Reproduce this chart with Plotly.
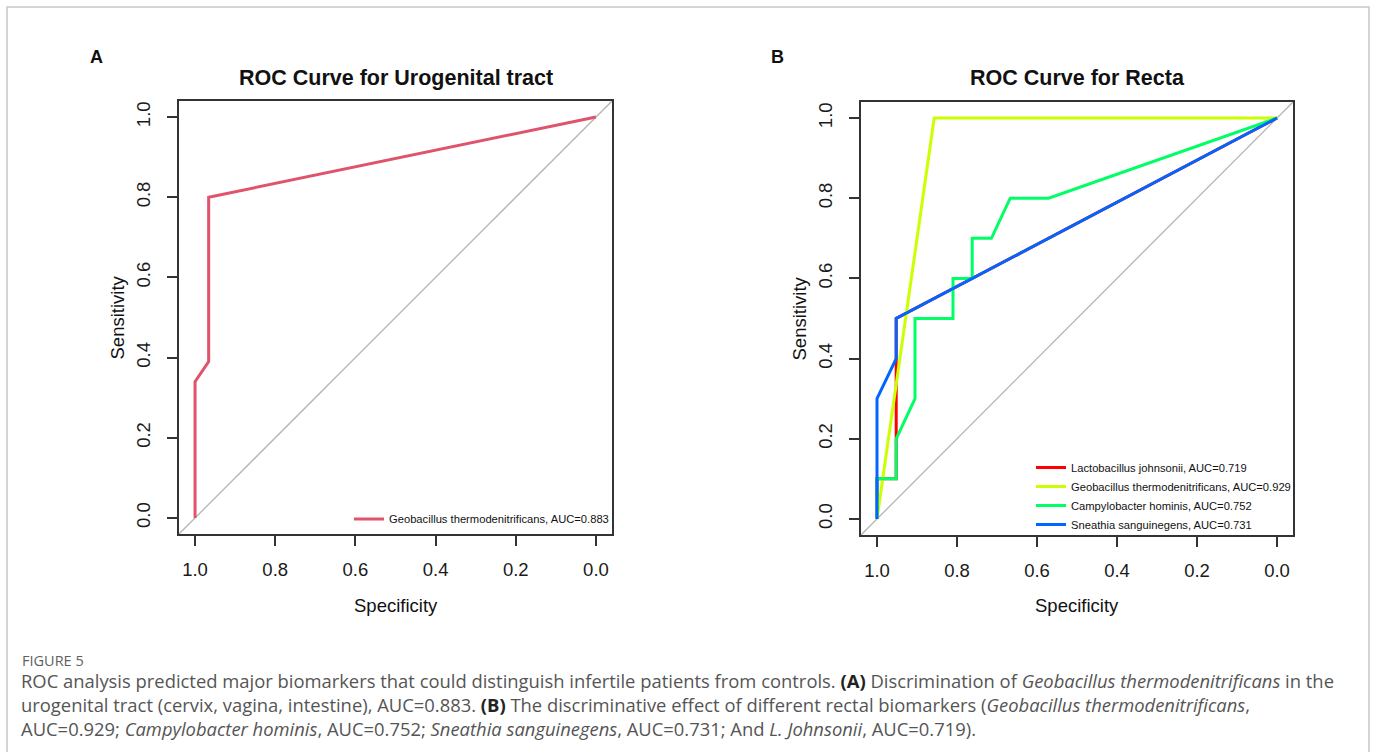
import plotly.graph_objects as go

W, H = 1375, 752

# ---------------- data ----------------
# Panel A: urogenital tract
uro_spec = [1.0, 1.0, 0.966, 0.966, 0.0]
uro_sens = [0.0, 0.34, 0.39, 0.80, 1.0]
uro_name = "Geobacillus thermodenitrificans, AUC=0.883"

# Panel B: recta
lacto_spec = [1.0, 1.0, 0.952, 0.952, 0.0]
lacto_sens = [0.0, 0.1, 0.1, 0.5, 1.0]
geo_spec = [1.0, 0.857, 0.0]
geo_sens = [0.0, 1.0, 1.0]
campy_spec = [1.0, 1.0, 0.952, 0.952, 0.905, 0.905, 0.810, 0.810, 0.762, 0.762, 0.714, 0.667, 0.571, 0.0]
campy_sens = [0.0, 0.1, 0.1, 0.2, 0.3, 0.5, 0.5, 0.6, 0.6, 0.7, 0.7, 0.8, 0.8, 1.0]
sneat_spec = [1.0, 1.0, 0.952, 0.952, 0.0]
sneat_sens = [0.0, 0.3, 0.4, 0.5, 1.0]

rect_names = [
    "Lactobacillus johnsonii, AUC=0.719",
    "Geobacillus thermodenitrificans, AUC=0.929",
    "Campylobacter hominis, AUC=0.752",
    "Sneathia sanguinegens, AUC=0.731",
]
rect_colors = ["#FF0000", "#CCFF00", "#00FF66", "#0066FF"]

x_tickvals = [1.0, 0.8, 0.6, 0.4, 0.2, 0.0]
x_ticktext = ["1.0", "0.8", "0.6", "0.4", "0.2", "0.0"]
y_tickvals = [0.0, 0.2, 0.4, 0.6, 0.8, 1.0]
y_ticktext = ["0.0", "0.2", "0.4", "0.6", "0.8", "1.0"]

titles = ["ROC Curve for Urogenital tract", "ROC Curve for Recta"]
panel_labels = ["A", "B"]

# ---------------- layout helpers ----------------
def px_x(p):
    return p / W

def px_y(p):
    return 1 - p / H

boxA = (179, 612, 101, 534)   # left, right, top, bottom (px)
boxB = (861, 1293, 102, 535)

FONT = "Liberation Sans, Arial, sans-serif"
AXC = "#333333"

fig = go.Figure()

# Panel A trace
fig.add_trace(go.Scatter(x=uro_spec, y=uro_sens, mode="lines", name=uro_name,
                         line=dict(color="#DF536B", width=3), xaxis="x", yaxis="y",
                         legend="legend"))

# Panel B traces
for sx, sy, nm, col in zip([lacto_spec, geo_spec, campy_spec, sneat_spec],
                           [lacto_sens, geo_sens, campy_sens, sneat_sens],
                           rect_names, rect_colors):
    fig.add_trace(go.Scatter(x=sx, y=sy, mode="lines", name=nm,
                             line=dict(color=col, width=3), xaxis="x2", yaxis="y2",
                             legend="legend2"))

def xaxis_cfg(box):
    return dict(domain=[px_x(box[0]), px_x(box[1])], range=[1.04, -0.04],
                tickmode="array", tickvals=x_tickvals, ticktext=x_ticktext,
                ticks="outside", ticklen=10, tickwidth=1.5, tickcolor=AXC,
                showline=True, mirror=True, linecolor=AXC, linewidth=1.5,
                showgrid=False, zeroline=False, ticklabelstandoff=8,
                tickfont=dict(family=FONT, size=18.5, color="#1a1a1a"))

def yaxis_cfg(box):
    return dict(domain=[px_y(box[3]), px_y(box[2])], range=[-0.04, 1.04],
                tickmode="array", tickvals=y_tickvals, ticktext=y_ticktext,
                ticks="outside", ticklen=10, tickwidth=1.5, tickcolor=AXC,
                showline=True, mirror=True, linecolor=AXC, linewidth=1.5,
                showgrid=False, zeroline=False, tickangle=-90, ticklabelstandoff=10,
                tickfont=dict(family=FONT, size=18.5, color="#1a1a1a"))

shapes = []
# diagonal reference lines
for xr, yr in (("x", "y"), ("x2", "y2")):
    shapes.append(dict(type="line", xref=xr, yref=yr, x0=1.04, y0=-0.04, x1=-0.04, y1=1.04,
                       line=dict(color="#B4B4B4", width=1.3), layer="below"))
# outer frame
shapes.append(dict(type="rect", xref="paper", yref="paper",
                   x0=px_x(7), x1=px_x(1369), y0=-0.05, y1=px_y(7),
                   line=dict(color="#C8C8C8", width=1.5), fillcolor="rgba(0,0,0,0)"))

annotations = []
for box, t, pl in zip([boxA, boxB], titles, panel_labels):
    cx = (box[0] + box[1]) / 2
    annotations.append(dict(text="<b>%s</b>" % t, x=px_x(cx), y=px_y(78), xref="paper", yref="paper",
                            showarrow=False, xanchor="center", yanchor="middle",
                            font=dict(family=FONT, size=21.5, color="#111")))
    annotations.append(dict(text="Specificity", x=px_x(cx), y=px_y(605), xref="paper", yref="paper",
                            showarrow=False, xanchor="center", yanchor="middle",
                            font=dict(family=FONT, size=18.5, color="#111")))
    annotations.append(dict(text="Sensitivity", x=px_x(box[0] - 62), y=px_y((box[2] + box[3]) / 2),
                            xref="paper", yref="paper", textangle=-90,
                            showarrow=False, xanchor="center", yanchor="middle",
                            font=dict(family=FONT, size=18.5, color="#111")))
    annotations.append(dict(text="<b>%s</b>" % pl, x=px_x(box[0] - 83), y=px_y(57), xref="paper", yref="paper",
                            showarrow=False, xanchor="center", yanchor="middle",
                            font=dict(family=FONT, size=18, color="#111")))

CAP_FONT = "Open Sans, sans-serif"
CAPC = "#555555"
caption_head = "FIGURE 5"
caption_lines = [
    "ROC analysis predicted major biomarkers that could distinguish infertile patients from controls. "
    "<b style='color:#222'>(A)</b> Discrimination of <i>Geobacillus thermodenitrificans</i> in the",
    "urogenital tract (cervix, vagina, intestine), AUC=0.883. <b style='color:#222'>(B)</b> The discriminative "
    "effect of different rectal biomarkers (<i>Geobacillus thermodenitrificans</i>,",
    "AUC=0.929; <i>Campylobacter hominis</i>, AUC=0.752; <i>Sneathia sanguinegens</i>, AUC=0.731; "
    "And <i>L. Johnsonii</i>, AUC=0.719).",
]
annotations.append(dict(text=caption_head, x=px_x(20), y=px_y(660), xref="paper", yref="paper",
                        showarrow=False, xanchor="left", yanchor="middle",
                        font=dict(family=CAP_FONT, size=14.5, color="#5f5f5f")))
annotations.append(dict(text="<br>".join(caption_lines), x=px_x(19), y=px_y(666), xref="paper", yref="paper",
                        showarrow=False, xanchor="left", yanchor="top", align="left",
                        font=dict(family=CAP_FONT, size=18.4, color=CAPC)))

fig.update_layout(
    width=W, height=H, autosize=False,
    margin=dict(l=0, r=0, t=0, b=0),
    paper_bgcolor="white", plot_bgcolor="white",
    xaxis=dict(xaxis_cfg(boxA), anchor="y"),
    yaxis=dict(yaxis_cfg(boxA), anchor="x"),
    xaxis2=dict(xaxis_cfg(boxB), anchor="y2"),
    yaxis2=dict(yaxis_cfg(boxB), anchor="x2"),
    shapes=shapes,
    annotations=annotations,
    legend=dict(x=px_x(349), y=px_y(519), xanchor="left", yanchor="middle",
                bgcolor="rgba(0,0,0,0)", font=dict(family=FONT, size=11.2, color="#111"),
                itemwidth=30),
    legend2=dict(x=px_x(1031), y=px_y(453), xanchor="left", yanchor="top",
                 bgcolor="rgba(0,0,0,0)", font=dict(family=FONT, size=11.2, color="#111"),
                 itemwidth=30, tracegroupgap=0),
    showlegend=True,
)

fig.write_html("out.html")
